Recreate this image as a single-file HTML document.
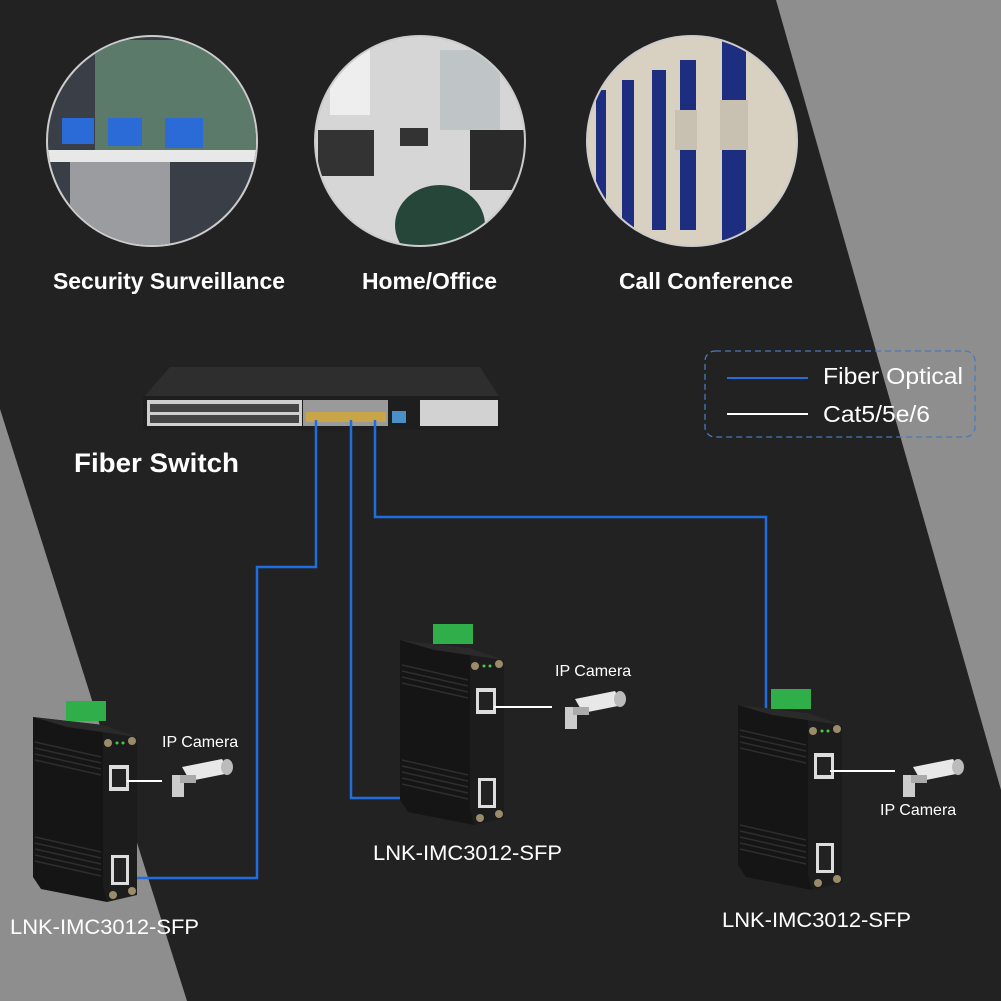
<!DOCTYPE html>
<html><head><meta charset="utf-8"><style>
html,body{margin:0;padding:0;background:#222}
svg{display:block}
text{font-family:"Liberation Sans",sans-serif}
</style></head><body>
<svg width="1001" height="1001" viewBox="0 0 1001 1001" xmlns="http://www.w3.org/2000/svg">
<defs>
<clipPath id="c1"><circle cx="152" cy="141" r="104"/></clipPath>
<clipPath id="c2"><circle cx="420" cy="141" r="104"/></clipPath>
<clipPath id="c3"><circle cx="692" cy="141" r="104"/></clipPath>
<g id="dev">
  <polygon points="0,0 70,8 88,22 88,170 74,185 8,172 0,160" fill="#151515"/>
  <polygon points="70,8 104,20 104,178 74,185 70,170" fill="#1c1c1c"/>
  <polygon points="0,0 70,8 104,20 34,10" fill="#2a2a2a"/>
  <g stroke="#2e2e2e" stroke-width="1.5">
    <line x1="2" y1="25" x2="68" y2="40"/><line x1="2" y1="31" x2="68" y2="46"/><line x1="2" y1="37" x2="68" y2="52"/><line x1="2" y1="43" x2="68" y2="58"/>
    <line x1="2" y1="120" x2="68" y2="135"/><line x1="2" y1="126" x2="68" y2="141"/><line x1="2" y1="132" x2="68" y2="147"/><line x1="2" y1="138" x2="68" y2="153"/><line x1="2" y1="144" x2="68" y2="159"/>
  </g>
  <rect x="33" y="-16" width="40" height="20" fill="#2fae4a"/>
  <rect x="76" y="48" width="20" height="26" fill="#ddd"/><rect x="79" y="52" width="14" height="18" fill="#222"/>
  <rect x="78" y="138" width="18" height="30" fill="#ddd"/><rect x="81" y="141" width="12" height="24" fill="#222"/>
  <circle cx="75" cy="26" r="4" fill="#9a8c6a"/><circle cx="99" cy="24" r="4" fill="#9a8c6a"/>
  <circle cx="80" cy="178" r="4" fill="#9a8c6a"/><circle cx="99" cy="174" r="4" fill="#9a8c6a"/>
  <circle cx="84" cy="26" r="1.5" fill="#4c4"/><circle cx="90" cy="26" r="1.5" fill="#4c4"/>
</g>
<g id="cam">
  <polygon points="10,12 50,4 58,18 18,26" fill="#e8e8e8"/>
  <ellipse cx="55" cy="12" rx="6" ry="8" fill="#bbb"/>
  <rect x="0" y="20" width="12" height="22" fill="#ccc"/>
  <rect x="8" y="20" width="16" height="8" fill="#aaa"/>
</g>
</defs>
<rect width="1001" height="1001" fill="#222222"/>
<polygon points="0,409 0,1001 187,1001" fill="#8e8e8e"/>
<polygon points="776,0 1001,0 1001,790" fill="#8e8e8e"/>

<!-- circles -->
<circle cx="152" cy="141" r="106" fill="#ccc"/>
<g clip-path="url(#c1)">
  <rect x="40" y="30" width="230" height="230" fill="#3a3e46"/>
  <rect x="95" y="40" width="170" height="120" fill="#5c7a6a"/>
  <rect x="40" y="150" width="230" height="12" fill="#e8e8e8"/>
  <rect x="70" y="162" width="100" height="90" fill="#9a9ca0"/>
  <rect x="62" y="118" width="32" height="26" fill="#2a6bd8"/><rect x="108" y="118" width="34" height="28" fill="#2a6bd8"/><rect x="165" y="118" width="38" height="30" fill="#2a6bd8"/>
</g>
<circle cx="420" cy="141" r="106" fill="#ccc"/>
<g clip-path="url(#c2)">
  <rect x="310" y="30" width="230" height="230" fill="#d6d6d6"/>
  <rect x="330" y="45" width="40" height="70" fill="#eee"/><rect x="440" y="50" width="60" height="80" fill="#bfc4c6"/>
  <rect x="318" y="130" width="56" height="46" fill="#333"/><rect x="470" y="130" width="60" height="60" fill="#2a2a2a"/>
  <rect x="400" y="128" width="28" height="18" fill="#333"/>
  <ellipse cx="440" cy="225" rx="45" ry="40" fill="#26463a"/>
</g>
<circle cx="692" cy="141" r="106" fill="#ccc"/>
<g clip-path="url(#c3)">
  <rect x="580" y="30" width="230" height="230" fill="#d8d0c0"/>
  <rect x="596" y="90" width="10" height="140" fill="#1d2e80"/><rect x="622" y="80" width="12" height="150" fill="#1d2e80"/>
  <rect x="652" y="70" width="14" height="160" fill="#1d2e80"/><rect x="680" y="60" width="16" height="170" fill="#1d2e80"/>
  <rect x="722" y="40" width="24" height="200" fill="#1d2e80"/>
  <rect x="720" y="100" width="28" height="50" fill="#c8c0b0"/><rect x="675" y="110" width="22" height="40" fill="#c8c0b0"/>
</g>

<g fill="#fff" font-weight="bold" font-size="22.8">
<text x="53" y="289" textLength="232" lengthAdjust="spacingAndGlyphs">Security Surveillance</text>
<text x="362" y="289" textLength="135" lengthAdjust="spacingAndGlyphs">Home/Office</text>
<text x="619" y="289" textLength="174" lengthAdjust="spacingAndGlyphs">Call Conference</text>
<text x="74" y="472" font-size="27" textLength="165" lengthAdjust="spacingAndGlyphs">Fiber Switch</text>
</g>

<!-- switch -->
<polygon points="143,398 170,367 480,367 500,398" fill="#2e2e2e"/>
<rect x="143" y="396" width="357" height="34" fill="#1e1e1e"/>
<rect x="147" y="400" width="155" height="26" fill="#cfcfcf"/>
<g fill="#444"><rect x="150" y="404" width="149" height="8"/><rect x="150" y="415" width="149" height="8"/></g>
<rect x="303" y="400" width="85" height="26" fill="#9a9a9a"/>
<rect x="306" y="412" width="80" height="10" fill="#c9a54a"/>
<rect x="392" y="411" width="14" height="12" fill="#4a90c8"/>
<rect x="420" y="400" width="78" height="26" fill="#d2d2d2"/>

<!-- legend -->
<rect x="705" y="351" width="270" height="86" rx="10" fill="none" stroke="#4a7ab8" stroke-width="1.3" stroke-dasharray="6,4"/>
<line x1="727" y1="378" x2="808" y2="378" stroke="#1e6ee0" stroke-width="2"/>
<line x1="727" y1="414" x2="808" y2="414" stroke="#fff" stroke-width="2"/>
<text x="823" y="384" fill="#fff" font-size="23" textLength="140" lengthAdjust="spacingAndGlyphs">Fiber Optical</text>
<text x="823" y="422" fill="#fff" font-size="23" textLength="107" lengthAdjust="spacingAndGlyphs">Cat5/5e/6</text>

<!-- fiber lines -->
<g fill="none" stroke="#1e6ee0" stroke-width="2.5">
<polyline points="316,420 316,567 257,567 257,878 125,878"/>
<polyline points="351,420 351,798 488,798"/>
<polyline points="375,420 375,517 766,517 766,861 820,861"/>
</g>

<!-- devices -->
<use href="#dev" x="33" y="717"/>
<use href="#dev" x="400" y="640"/>
<use href="#dev" x="738" y="705"/>

<!-- cat lines -->
<g stroke="#fff" stroke-width="2">
<line x1="127" y1="781" x2="162" y2="781"/>
<line x1="494" y1="707" x2="552" y2="707"/>
<line x1="830" y1="771" x2="895" y2="771"/>
</g>
<use href="#cam" x="172" y="755"/>
<use href="#cam" x="565" y="687"/>
<use href="#cam" x="903" y="755"/>

<g fill="#fff" font-size="16">
<text x="162" y="747">IP Camera</text>
<text x="555" y="676">IP Camera</text>
<text x="880" y="815">IP Camera</text>
</g>
<g fill="#fff" font-size="21.5">
<text x="10" y="934" textLength="189" lengthAdjust="spacingAndGlyphs">LNK-IMC3012-SFP</text>
<text x="373" y="860" textLength="189" lengthAdjust="spacingAndGlyphs">LNK-IMC3012-SFP</text>
<text x="722" y="927" textLength="189" lengthAdjust="spacingAndGlyphs">LNK-IMC3012-SFP</text>
</g>
</svg>
</body></html>
